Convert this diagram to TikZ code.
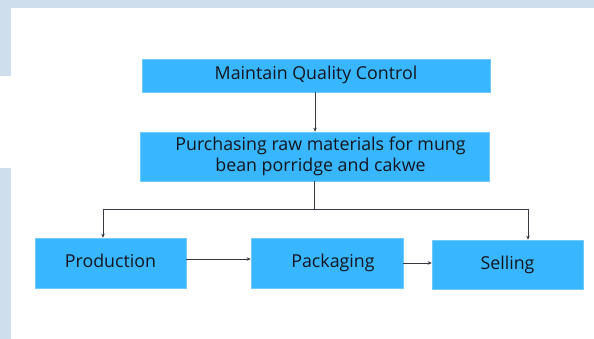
\documentclass[tikz,border=0pt]{standalone}
\usepackage{fontspec}
\setmainfont{Open Sans}
\usetikzlibrary{arrows.meta}
\definecolor{boxblue}{HTML}{38B6FF}
\definecolor{edgeblue}{HTML}{6FCBFF}
\definecolor{pageblue}{HTML}{CEDEED}
\definecolor{inkdark}{HTML}{15151F}
\tikzset{
  stepbox/.style={draw=edgeblue,line width=0.6pt,fill=boxblue,text=inkdark,
    inner sep=0pt,font=\fontsize{17.8}{21}\selectfont},
  onebox/.style={stepbox,text height=13pt,text depth=4pt},
  link/.style={draw=inkdark!85,line width=0.9pt},
  flow/.style={link,-{Stealth[length=4pt,width=3.5pt]}}
}
\begin{document}
\begin{tikzpicture}[x=1pt,y=-1pt]
\useasboundingbox (0,0) rectangle (594,339);
\fill[white] (0,0) rectangle (594,339);
\fill[pageblue] (0,0) rectangle (594,8);
\fill[pageblue] (0,0) rectangle (11,76);
\fill[pageblue] (0,168) rectangle (11,339);

\node[onebox,minimum width=348pt,minimum height=33pt] (qc) at (316,75.5) {Maintain Quality Control};
\node[stepbox,minimum width=349pt,minimum height=49pt,align=center] (buy) at (314.5,156.5)
  {\hspace*{12pt}Purchasing raw materials for mung\\\hspace*{12pt}bean porridge and cakwe};
\node[onebox,minimum width=151pt,minimum height=50pt] (prod) at (110.5,263) {Production};
\node[onebox,minimum width=152pt,minimum height=50pt] (pack) at (327,263) {\hspace*{12pt}Packaging};
\node[onebox,minimum width=151pt,minimum height=49pt] (sell) at (507.5,264.5) {Selling};

\coordinate (lturn) at (103,209);
\coordinate (rturn) at (528,209);

\draw[flow] (qc.south -| 315,0) -- (buy.north -| 315,0);
\draw[link] (buy.south) -- (buy.south |- lturn);
\draw[link] (lturn) -- (rturn);
\draw[flow] (lturn) -- (lturn |- prod.north);
\draw[flow] (rturn) -- (rturn |- sell.north);
\draw[flow] (prod.east |- 0,259) -- (pack.west |- 0,259);
\draw[flow] (pack.east |- 0,263) -- (sell.west |- 0,263);
\end{tikzpicture}
\end{document}
